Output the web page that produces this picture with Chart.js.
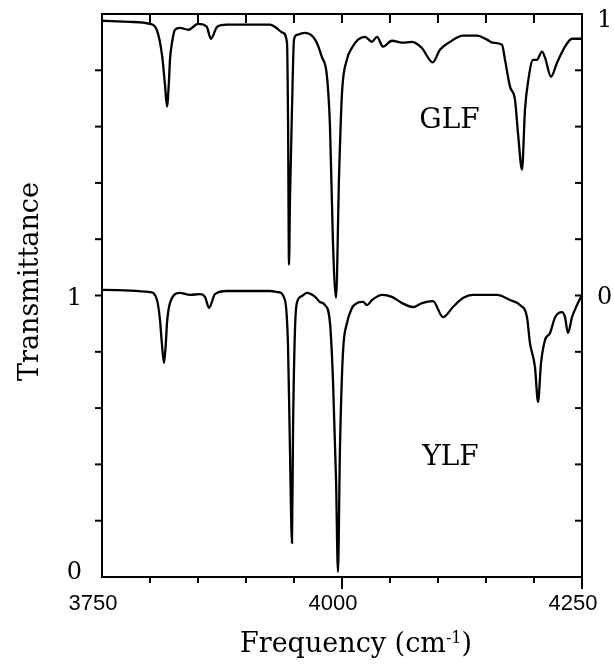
<!DOCTYPE html>
<html>
<head>
<meta charset="utf-8">
<script src="https://cdn.jsdelivr.net/npm/chart.js@4.4.1/dist/chart.umd.min.js"></script>
<style>
  html, body { margin: 0; padding: 0; background: #fff; }
  canvas { display: block; }
</style>
</head>
<body>
<canvas id="spectra" width="614" height="667"></canvas>
<script>
// GLF spectrum, read against the right-hand axis (0 at the middle, 1 at the top)
let glfFreq = [3750, 3779, 3800, 3807, 3812.5, 3815.6, 3817.7, 3819.8, 3820.8, 3822.9,
  3826, 3831, 3840, 3850, 3859, 3863.5, 3870, 3880, 3925, 3930,
  3938.5, 3942.7, 3943.8, 3944.8, 3945.8, 3947.9, 3950, 3953, 3961.5, 3972,
  3979, 3984.4, 3987.5, 3990.6, 3993.8, 3996.9, 4000, 4005, 4010.4, 4016.7,
  4024, 4031, 4036.5, 4042.7, 4052, 4062.5, 4073, 4083, 4094.5, 4102,
  4112.5, 4126, 4140.6, 4151, 4157.3, 4166.7, 4169.8, 4175, 4180.2, 4183.3,
  4187.5, 4190.6, 4193.8, 4199, 4203, 4208.3, 4211.5, 4217.7, 4224, 4232.3,
  4239.6, 4250];
let glfT = [0.976, 0.972, 0.965, 0.944, 0.855, 0.749, 0.671, 0.766, 0.837, 0.898,
  0.944, 0.951, 0.944, 0.965, 0.955, 0.912, 0.955, 0.962, 0.962, 0.955,
  0.933, 0.898, 0.624, 0.109, 0.340, 0.660, 0.909, 0.926, 0.933, 0.909,
  0.848, 0.777, 0.599, 0.187, -0.008, 0.421, 0.720, 0.837, 0.880, 0.909,
  0.919, 0.901, 0.919, 0.884, 0.905, 0.898, 0.901, 0.880, 0.828, 0.873,
  0.901, 0.923, 0.923, 0.909, 0.898, 0.891, 0.837, 0.742, 0.695, 0.578,
  0.447, 0.660, 0.759, 0.837, 0.837, 0.866, 0.845, 0.777, 0.827, 0.884,
  0.912, 0.912];

// YLF spectrum, read against the left-hand axis (0 at the bottom, 1 at the middle)
let ylfFreq = [3750, 3800, 3807.3, 3810.4, 3812.5, 3814.6, 3816.7, 3817.7, 3820.8, 3831,
  3841.7, 3852, 3857.3, 3861.5, 3867.7, 3880, 3925, 3933.3, 3940.6, 3943.8,
  3945.8, 3947.9, 3949, 3951, 3953, 3958.3, 3963.5, 3972, 3977, 3982.3,
  3987.5, 3990.6, 3993.8, 3995.8, 3997.9, 4001, 4005.2, 4010.4, 4015.6, 4022,
  4026, 4031.3, 4041.7, 4052, 4062.5, 4074, 4083.3, 4094.8, 4105.2, 4115.6,
  4126, 4136.5, 4151, 4161.5, 4175, 4185.4, 4192.7, 4195.8, 4201, 4204.2,
  4207.3, 4211.5, 4216.7, 4222, 4229.2, 4232.3, 4235.4, 4239.6, 4244.8, 4250];
let ylfT = [1.020, 1.012, 0.984, 0.913, 0.824, 0.760, 0.842, 0.902, 0.973, 1.009,
  1.002, 1.005, 0.995, 0.956, 1.005, 1.016, 1.016, 1.012, 0.984, 0.817,
  0.451, 0.121, 0.522, 0.877, 0.973, 0.998, 1.009, 0.995, 0.977, 0.966,
  0.902, 0.700, 0.345, 0.018, 0.462, 0.796, 0.902, 0.956, 0.973, 0.977,
  0.966, 0.984, 1.002, 0.995, 0.973, 0.959, 0.973, 0.980, 0.923, 0.959,
  0.991, 1.002, 1.002, 1.002, 0.984, 0.966, 0.923, 0.831, 0.746, 0.622,
  0.760, 0.842, 0.867, 0.923, 0.941, 0.923, 0.867, 0.923, 0.966, 1.002];

let xTickLabels = [3750, 4000, 4250];
let leftTickLabels = [0, 1];
let rightTickLabels = [0, 1];

const serif = '"DejaVu Serif", serif';

function pairs(xs, ys) {
  return xs.map((f, i) => ({ x: f, y: ys[i] }));
}

function line(ctx, x1, y1, x2, y2) {
  ctx.beginPath();
  ctx.moveTo(x1, y1);
  ctx.lineTo(x2, y2);
  ctx.stroke();
}

// frame, ticks and texts, all placed through the chart scales
const framePlugin = {
  id: 'frame',
  afterDraw(chart) {
    const { ctx, chartArea: a } = chart;
    const { x, y, y2 } = chart.scales;
    ctx.save();
    ctx.strokeStyle = '#000';
    ctx.fillStyle = '#000';
    ctx.lineWidth = 2;
    ctx.strokeRect(a.left, a.top, a.right - a.left, a.bottom - a.top);

    for (let f = 3800; f <= 4250; f += 50) {
      const px = x.getPixelForValue(f);
      const major = xTickLabels.includes(f);
      line(ctx, px, a.bottom, px, a.bottom + (major ? 12 : 6));
      if (f < 4250) line(ctx, px, a.top, px, a.top + 9);
    }
    for (let i = 1; i < 10; i++) {
      const py = y.getPixelForValue(i * 0.2);
      line(ctx, a.left - 7, py, a.left, py);
    }
    for (let i = -4; i < 5; i++) {
      const py = y2.getPixelForValue(i * 0.2);
      line(ctx, a.right - 7, py, a.right, py);
    }

    // bottom tick labels
    ctx.font = '22px "Liberation Sans", Arial, sans-serif';
    ctx.textAlign = 'center';
    ctx.textBaseline = 'alphabetic';
    xTickLabels.forEach(f => {
      ctx.fillText(String(f), x.getPixelForValue(f) - 9, a.bottom + 33);
    });

    // left and right tick labels
    ctx.font = '24px ' + serif;
    ctx.textBaseline = 'middle';
    ctx.textAlign = 'right';
    const leftShift = [-4, 3];
    leftTickLabels.forEach((v, i) => {
      ctx.fillText(String(v), a.left - 20, y.getPixelForValue(v) + leftShift[i]);
    });
    ctx.textAlign = 'left';
    const rightShift = [2, 7];
    rightTickLabels.forEach((v, i) => {
      ctx.fillText(String(v), a.right + 15, y2.getPixelForValue(v) + rightShift[i]);
    });

    // sample names
    ctx.font = '28px ' + serif;
    ctx.textAlign = 'center';
    ctx.textBaseline = 'alphabetic';
    ctx.fillText('GLF', x.getPixelForValue(4112), y2.getPixelForValue(0.594));
    ctx.fillText('YLF', x.getPixelForValue(4113), y.getPixelForValue(0.397));

    // y title
    ctx.save();
    ctx.font = '27px ' + serif;
    ctx.translate(38, (a.top + a.bottom) / 2 - 14);
    ctx.rotate(-Math.PI / 2);
    ctx.textAlign = 'center';
    ctx.fillText('Transmittance', 0, 0);
    ctx.restore();

    // x title with superscript
    const main = 'Frequency (cm';
    ctx.font = '27px ' + serif;
    const w1 = ctx.measureText(main).width;
    const w3 = ctx.measureText(')').width;
    ctx.font = '16px ' + serif;
    const w2 = ctx.measureText('-1').width;
    const total = w1 + w2 + w3;
    let tx = 356 - total / 2;
    const base = 652;
    ctx.textAlign = 'left';
    ctx.font = '27px ' + serif;
    ctx.fillText(main, tx, base);
    ctx.font = '16px ' + serif;
    ctx.fillText('-1', tx + w1, base - 9);
    ctx.font = '27px ' + serif;
    ctx.fillText(')', tx + w1 + w2, base);
    ctx.restore();
  }
};

let ctx = document.getElementById('spectra').getContext('2d');
// eslint-disable-next-line no-unused-vars
let spectraChart = new Chart(ctx, {
  type: 'line',
  data: {
    datasets: [{
      label: 'GLF',
      data: pairs(glfFreq, glfT),
      yAxisID: 'y2',
      borderColor: '#000',
      borderWidth: 2.3,
      pointRadius: 0,
      cubicInterpolationMode: 'monotone',
      fill: false
    }, {
      label: 'YLF',
      data: pairs(ylfFreq, ylfT),
      yAxisID: 'y',
      borderColor: '#000',
      borderWidth: 2.3,
      pointRadius: 0,
      cubicInterpolationMode: 'monotone',
      fill: false
    }]
  },
  options: {
    responsive: false,
    animation: false,
    devicePixelRatio: 1,
    layout: {
      padding: { left: 102, right: 32, top: 14, bottom: 90 }
    },
    plugins: {
      legend: { display: false },
      tooltip: { enabled: false }
    },
    scales: {
      x: { type: 'linear', min: 3750, max: 4250, display: false },
      y: { type: 'linear', min: 0, max: 2, display: false },
      y2: { type: 'linear', min: -1, max: 1, display: false, position: 'right' }
    }
  },
  plugins: [framePlugin]
});
</script>
</body>
</html>
